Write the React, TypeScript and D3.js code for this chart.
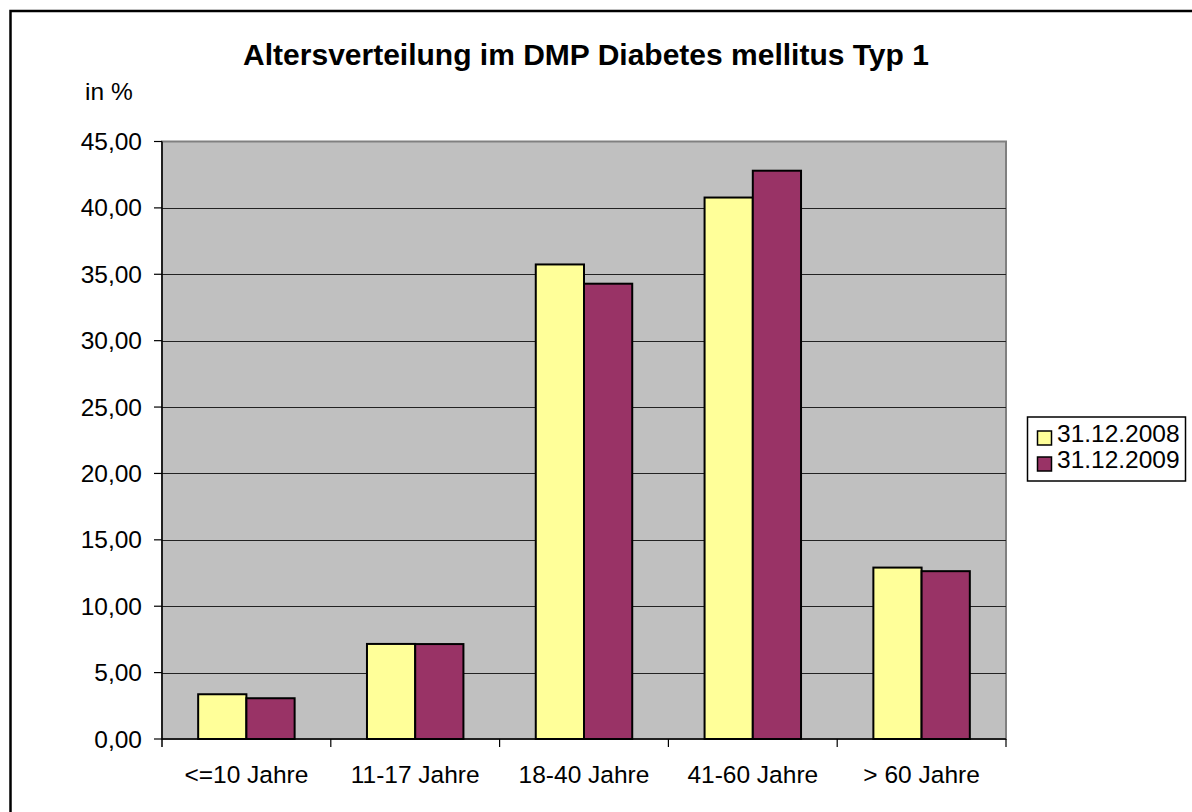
import React from "react";
import * as d3 from "d3";

const categories = ["<=10 Jahre", "11-17 Jahre", "18-40 Jahre", "41-60 Jahre", "> 60 Jahre"];
const seriesNames = ["31.12.2008", "31.12.2009"];
const values2008 = [3.37, 7.16, 35.74, 40.78, 12.91];
const values2009 = [3.07, 7.15, 34.29, 42.8, 12.64];
const yTicks = [0, 5, 10, 15, 20, 25, 30, 35, 40, 45];
const colors = ["#FFFF99", "#993366"];

const W = 1192;
const H = 812;
const plot = { left: 162, right: 1006, top: 141.5, bottom: 739 };
const font = "'Liberation Sans', Arial, sans-serif";
const fs = 24.5;

export default function App() {
  const x = d3.scaleBand<string>().domain(categories).range([plot.left, plot.right]);
  const y = d3.scaleLinear().domain([0, 45]).range([plot.bottom, plot.top]);
  const bw = x.bandwidth() / 3.5;
  const series = [values2008, values2009];
  const fmt = (v: number) => v.toFixed(2).replace(".", ",");

  return (
    <svg width={W} height={H} style={{ position: "fixed", left: 0, top: 0, display: "block" }} fontFamily={font}>
      <rect x={0} y={0} width={W} height={H} fill="#fff" />
      <rect x={10.5} y={11} width={1300} height={1000} fill="none" stroke="#000" strokeWidth={2.5} />
      <text x={586} y={65} textAnchor="middle" fontSize={30} fontWeight="bold">
        Altersverteilung im DMP Diabetes mellitus Typ 1
      </text>
      <text x={85} y={100} fontSize={fs}>in %</text>

      <rect x={plot.left} y={plot.top} width={plot.right - plot.left} height={plot.bottom - plot.top} fill="#C0C0C0" stroke="#808080" strokeWidth={2} />
      {yTicks.filter((t) => t > 0 && t < 45).map((t) => (
        <line key={t} x1={plot.left} x2={plot.right} y1={Math.round(y(t)) + 0.5} y2={Math.round(y(t)) + 0.5} stroke="#222" strokeWidth={1} />
      ))}

      {series.map((vals, si) =>
        categories.map((c, ci) => {
          const x0 = (x(c) as number) + bw * 0.75 + si * bw;
          return (
            <rect key={si + "-" + ci} x={x0} y={y(vals[ci])} width={bw} height={plot.bottom - y(vals[ci])} fill={colors[si]} stroke="#000" strokeWidth={2} />
          );
        })
      )}

      <line x1={plot.left} x2={plot.left} y1={plot.top} y2={plot.bottom + 8} stroke="#000" strokeWidth={1.5} />
      <line x1={plot.left} x2={plot.right} y1={plot.bottom} y2={plot.bottom} stroke="#000" strokeWidth={1.5} />
      {yTicks.map((t) => (
        <g key={t}>
          <line x1={plot.left - 8} x2={plot.left} y1={y(t)} y2={y(t)} stroke="#000" strokeWidth={1.2} />
          <text x={142} y={y(t) + 8.5} textAnchor="end" fontSize={fs}>{fmt(t)}</text>
        </g>
      ))}
      {categories.map((c, i) => (
        <line key={"t" + i} x1={(x(c) as number) + x.bandwidth()} x2={(x(c) as number) + x.bandwidth()} y1={plot.bottom} y2={plot.bottom + 8} stroke="#000" strokeWidth={1.2} />
      ))}
      {categories.map((c) => (
        <text key={c} x={(x(c) as number) + x.bandwidth() / 2} y={783} textAnchor="middle" fontSize={fs}>{c}</text>
      ))}

      <rect x={1027.5} y={417} width={158} height={64} fill="#fff" stroke="#000" strokeWidth={1.5} />
      {seriesNames.map((n, i) => (
        <g key={n}>
          <rect x={1037.5} y={431 + i * 26} width={14} height={14} fill={colors[i]} stroke="#000" strokeWidth={1.5} />
          <text x={1057} y={442 + i * 26} fontSize={fs}>{n}</text>
        </g>
      ))}
    </svg>
  );
}
